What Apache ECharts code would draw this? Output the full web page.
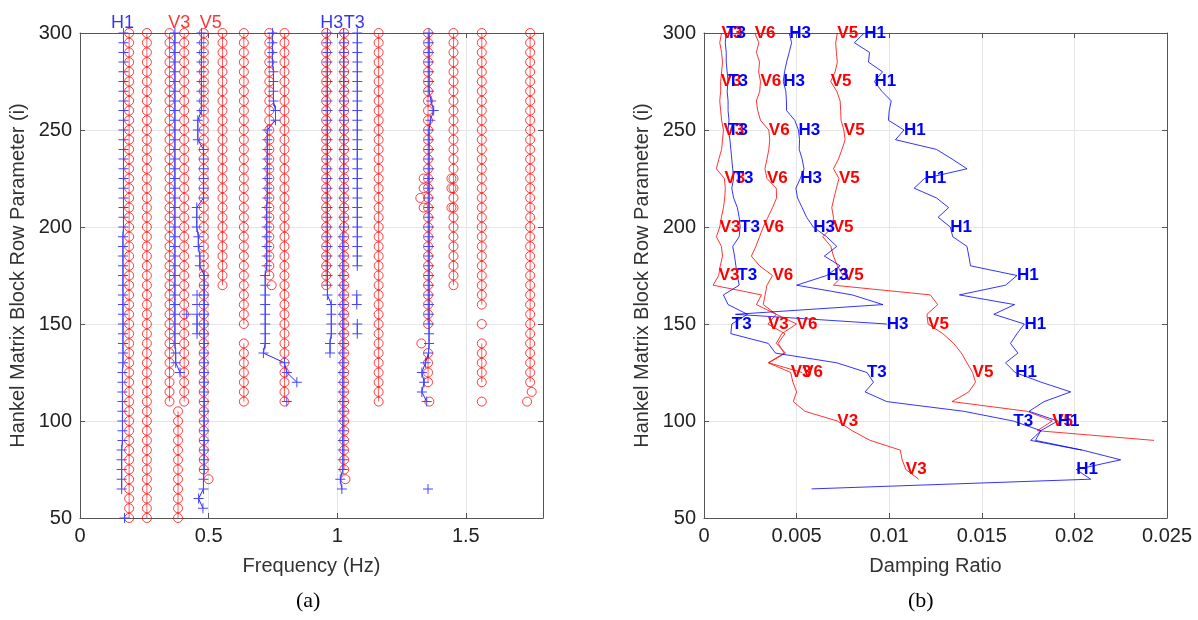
<!DOCTYPE html>
<html><head><meta charset="utf-8">
<script src="https://cdn.jsdelivr.net/npm/echarts@6/dist/echarts.min.js"></script>
<style>html,body{margin:0;padding:0;background:#fff}#c{width:1198px;height:620px}</style>
</head><body><div id="c"></div>
<script>
// ---------- (a) stabilisation diagram ----------
const ORDER_STEP = 5;
const freqAxis = {min: 0, max: 1.8, interval: 0.5};
const orderAxis = {min: 50, max: 300, interval: 50};
const dampAxis = {min: 0, max: 0.025, interval: 0.005};

// red circle columns: [frequency (Hz), lowest order i, highest order i]
const redColumns = [
  [0.191, 50, 300], [0.260, 50, 300], [0.348, 110, 300], [0.405, 110, 300],
  [0.381, 50, 105], [0.481, 75, 300], [0.554, 170, 300], [0.637, 150, 300],
  [0.637, 110, 140], [0.736, 175, 300], [0.795, 110, 300], [0.957, 170, 300],
  [1.027, 75, 300], [1.161, 110, 300], [1.353, 150, 300], [1.353, 120, 135],
  [1.452, 170, 300], [1.562, 160, 300], [1.562, 120, 140], [1.750, 120, 300]
];
// isolated red circles [frequency, order]
const redExtras = [
  [0.500, 70], [0.745, 170], [1.032, 70], [1.336, 225], [1.336, 220], [1.323, 215],
  [1.336, 210], [1.327, 140], [1.358, 110], [1.444, 225], [1.444, 220], [1.444, 210],
  [1.562, 150], [1.562, 110], [1.756, 115], [1.738, 110]
];
// blue tracked poles, runs of [frequency, lowest order, highest order]
const trackH1 = [[0.169, 200, 300], [0.167, 130, 195], [0.165, 90, 125], [0.162, 65, 85]];
const trackV3 = [[0.369, 140, 300], [0.372, 130, 135], [0.389, 125, 125]];
const trackV5 = [[0.472, 260, 300], [0.458, 245, 255], [0.480, 215, 240], [0.454, 200, 210],
  [0.460, 190, 195], [0.466, 180, 185], [0.483, 75, 175], [0.480, 65, 70], [0.461, 60, 60], [0.478, 55, 55]];
const trackV5b = [[0.455, 145, 155]];
const track074 = [[0.748, 285, 300], [0.752, 265, 280], [0.760, 255, 260], [0.728, 215, 250],
  [0.726, 180, 210], [0.720, 140, 175], [0.713, 135, 135], [0.795, 130, 130], [0.804, 125, 125], [0.843, 120, 120]];
const trackH3 = [[0.962, 165, 300], [0.977, 145, 160], [0.972, 135, 140]];
const track102 = [[1.025, 200, 300], [1.022, 75, 195], [1.012, 70, 70], [1.018, 65, 65]];
const trackT3 = [[1.078, 180, 300]];
const trackT3b = [[1.076, 160, 165]];
const trackT3c = [[1.078, 145, 150]];
const track135 = [[1.357, 270, 300], [1.365, 265, 265], [1.375, 260, 260], [1.362, 255, 255],
  [1.357, 140, 250], [1.355, 135, 135], [1.343, 130, 130], [1.329, 125, 125], [1.338, 120, 120],
  [1.329, 115, 115], [1.348, 110, 110]];
const blueSingles = [[0.173, 50], [0.455, 165], [0.455, 160], [0.804, 110], [1.353, 65], [0.415, 155]];

const topLabelNames = ['H1', 'V3', 'V5', 'H3', 'T3'];
const topLabelFreqs = [0.165, 0.386, 0.508, 0.979, 1.066];

// ---------- (b) damping ratio vs order (orders 300, 295, 290, ...) ----------
const dampTopOrder = 300;
const dampV3 = [0.00095,0.00085,0.00095,0.0010,0.00095,0.0009,0.0009,0.00085,0.0009,0.00095,
  0.00105,0.0010,0.00095,0.0008,0.00067,0.0011,0.00115,0.00112,0.00105,0.00094,
  0.00085,0.00067,0.00094,0.0010,0.00088,0.00079,0.00049,0.0031,0.00283,0.0039,
  0.00345,0.00437,0.0040,0.00433,0.00347,0.00468,0.0048,0.0050,0.00482,0.00545,
  0.0072,0.0080,0.00897,0.0106,0.0107,0.0109,0.01159];
const dampT3 = [0.0012,0.00115,0.0012,0.0012,0.00125,0.0013,0.00125,0.0013,0.0013,0.00135,
  0.0013,0.0014,0.00145,0.0015,0.00155,0.0016,0.0015,0.0016,0.0018,0.0019,
  0.00195,0.0019,0.00155,0.00165,0.00172,0.0018,0.0019,0.00105,0.0013,0.00235,
  0.0015,0.00145,0.00347,0.00386,0.00717,0.0088,0.00915,0.0087,0.00987,0.01403,
  0.0167,0.0182,0.01764,0.0204];
const dampV6 = [0.00274,0.00296,0.00283,0.0030,0.00295,0.00305,0.00301,0.00283,0.0029,0.00305,
  0.0035,0.00355,0.0035,0.0034,0.00329,0.0034,0.0039,0.00392,0.0037,0.00345,
  0.0032,0.0030,0.0028,0.00256,0.0030,0.0037,0.0034,0.0033,0.0032,0.0039,
  0.0050,0.0042,0.0039,0.0044,0.0035,0.0053];
const dampH3 = [0.0046,0.00473,0.0046,0.00446,0.00435,0.00428,0.00442,0.00445,0.00446,0.0049,
  0.0051,0.00516,0.00514,0.0053,0.0054,0.0052,0.00496,0.00505,0.0053,0.00554,
  0.0059,0.00662,0.00717,0.0065,0.00735,0.00662,0.0050,0.0080,0.00966,0.0017,
  0.00987];
const dampV5 = [0.0072,0.00711,0.00715,0.0072,0.00708,0.00684,0.00717,0.00735,0.00738,0.0074,
  0.00755,0.00762,0.00745,0.00726,0.00699,0.00729,0.00715,0.00702,0.0069,0.00699,
  0.00695,0.00641,0.00685,0.00699,0.0072,0.0075,0.00699,0.01222,0.01262,0.01204,
  0.0121,0.0129,0.01348,0.0139,0.0142,0.0145,0.01466,0.0143,0.01339,0.01745,
  0.0188,0.0180,0.0243];
const dampH1 = [0.00865,0.00812,0.00894,0.00888,0.00964,0.0092,0.0096,0.01011,0.0100,0.00996,
  0.0108,0.01034,0.01255,0.0134,0.0142,0.0119,0.01135,0.01255,0.01321,0.01264,
  0.0133,0.01343,0.0142,0.0143,0.01439,0.0169,0.01628,0.01379,0.01677,0.01565,
  0.0173,0.0169,0.01655,0.01695,0.01628,0.0168,0.0182,0.0198,0.01836,0.01755,
  0.0191,0.01818,0.0179,0.02043,0.0225,0.0201,0.02088,0.00581];

// ---------- styling ----------
const RED = '#ff0000', BLUE = '#0000ff', PLUS_BLUE = '#4646ff';
const FONT = 'Liberation Sans, Arial, Helvetica, sans-serif';
const PLUS = 'path://M4.5,0h1v4.5h4.5v1h-4.5v4.5h-1v-4.5h-4.5v-1h4.5z';

function runsToPoints(runs) {
  const pts = [];
  runs.forEach(([f, lo, hi]) => { for (let i = hi; i >= lo; i -= ORDER_STEP) pts.push([f, i]); });
  return pts;
}

const series = [];
redColumns.forEach(([f, lo, hi]) => {
  series.push({
    type: 'line', xAxisIndex: 0, yAxisIndex: 0, data: runsToPoints([[f, lo, hi]]),
    symbol: 'circle', symbolSize: 9, showSymbol: true, silent: true,
    lineStyle: {color: RED, width: 0.8, opacity: 0.8},
    itemStyle: {color: 'rgba(0,0,0,0)', borderColor: RED, borderWidth: 1, opacity: 0.75}
  });
});
series.push({
  type: 'scatter', xAxisIndex: 0, yAxisIndex: 0, data: redExtras, symbol: 'circle', symbolSize: 9,
  itemStyle: {color: 'rgba(0,0,0,0)', borderColor: RED, borderWidth: 1, opacity: 0.75}
});
[trackH1, trackV3, trackV5, trackV5b, track074, trackH3, track102, trackT3, trackT3b, trackT3c, track135]
  .forEach(runs => {
    series.push({
      type: 'line', xAxisIndex: 0, yAxisIndex: 0, data: runsToPoints(runs),
      symbol: PLUS, symbolSize: 10, showSymbol: true, z: 3,
      lineStyle: {color: BLUE, width: 1, opacity: 0.85},
      itemStyle: {color: PLUS_BLUE, borderColor: PLUS_BLUE, borderWidth: 0, opacity: 1}
    });
  });
series.push({
  type: 'scatter', xAxisIndex: 0, yAxisIndex: 0, data: blueSingles, symbol: PLUS, symbolSize: 10, z: 3,
  itemStyle: {color: PLUS_BLUE, borderColor: PLUS_BLUE, borderWidth: 0, opacity: 1}
});
series.push({
  type: 'scatter', xAxisIndex: 0, yAxisIndex: 0, symbolSize: 0, z: 5,
  data: topLabelFreqs.map((f, k) => ({
    value: [f, orderAxis.max], name: topLabelNames[k],
    label: {color: topLabelNames[k][0] === 'V' ? RED : BLUE}
  })),
  label: {show: true, position: 'top', distance: 1, formatter: p => p.name, fontFamily: FONT, fontSize: 18}
});

function dampSeries(name, values, color) {
  return {
    type: 'line', xAxisIndex: 2, yAxisIndex: 2, name,
    data: values.map((d, k) => [d, dampTopOrder - ORDER_STEP * k]),
    symbol: 'circle', symbolSize: 0.01, showSymbol: true,
    lineStyle: {color, width: 1, opacity: 0.8},
    itemStyle: {color},
    label: {
      show: true, position: 'right', distance: 0, color, fontFamily: FONT,
      fontWeight: 'bold', fontSize: 17,
      formatter: p => (p.value[1] % 25 === 0 ? name : '')
    }
  };
}
series.push(dampSeries('V3', dampV3, RED));
series.push(dampSeries('V6', dampV6, RED));
series.push(dampSeries('V5', dampV5, RED));
series.push(dampSeries('T3', dampT3, BLUE));
series.push(dampSeries('H3', dampH3, BLUE));
series.push(dampSeries('H1', dampH1, BLUE));

const AX = '#555555';
const TXT = '#222222';
function mainAxis(range, gridIndex, pos, name, gap, extra) {
  return Object.assign({
    type: 'value', gridIndex, position: pos, min: range.min, max: range.max, interval: range.interval,
    name, nameLocation: 'middle', nameGap: gap,
    nameTextStyle: {fontFamily: FONT, fontSize: 20, color: '#333333'},
    axisLine: {show: true, onZero: false, lineStyle: {color: AX, width: 1}},
    axisTick: {show: true, inside: true, length: 5, lineStyle: {color: AX}},
    axisLabel: {fontFamily: FONT, fontSize: 20, color: TXT, margin: 8, showMaxLabel: true},
    splitLine: {show: true, lineStyle: {color: '#e6e6e6', width: 1}}
  }, extra || {});
}
function mirrorAxis(range, gridIndex, pos) {
  return {
    type: 'value', gridIndex, position: pos, min: range.min, max: range.max, interval: range.interval,
    axisLine: {show: true, onZero: false, lineStyle: {color: AX, width: 1}},
    axisTick: {show: true, inside: true, length: 5, lineStyle: {color: AX}},
    axisLabel: {show: false}, splitLine: {show: false}
  };
}

const option = {
  animation: false,
  backgroundColor: '#ffffff',
  grid: [
    {left: 80, top: 33, width: 463, height: 485},
    {left: 704, top: 33, width: 463, height: 485}
  ],
  xAxis: [
    mainAxis(freqAxis, 0, 'bottom', 'Frequency (Hz)', 38, {axisLabel: {fontFamily: FONT, fontSize: 20, color: TXT, margin: 8, showMaxLabel: false}}),
    mirrorAxis(freqAxis, 0, 'top'),
    mainAxis(dampAxis, 1, 'bottom', 'Damping Ratio', 38),
    mirrorAxis(dampAxis, 1, 'top')
  ],
  yAxis: [
    mainAxis(orderAxis, 0, 'left', 'Hankel Matrix Block Row Parameter (i)', 52),
    mirrorAxis(orderAxis, 0, 'right'),
    mainAxis(orderAxis, 1, 'left', 'Hankel Matrix Block Row Parameter (i)', 52),
    mirrorAxis(orderAxis, 1, 'right')
  ],
  graphic: [
    {type: 'text', left: 296, top: 590, style: {text: '(a)', font: '22px "Liberation Serif", "Times New Roman", serif', fill: '#000'}},
    {type: 'text', left: 908, top: 590, style: {text: '(b)', font: '22px "Liberation Serif", "Times New Roman", serif', fill: '#000'}}
  ],
  series
};
const chart = echarts.init(document.getElementById('c'), null, {renderer: 'canvas'});
chart.setOption(option);
</script>
</body></html>
